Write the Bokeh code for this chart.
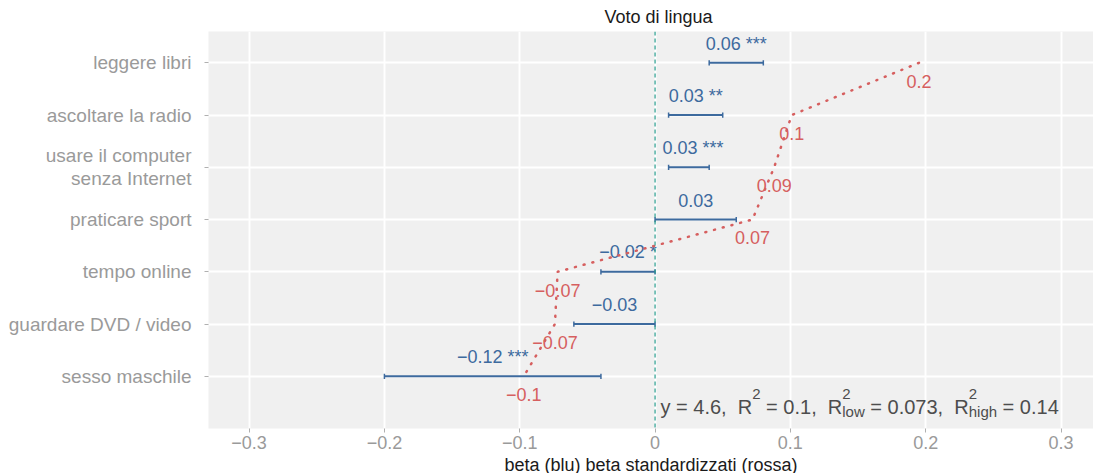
from bokeh.plotting import figure
from bokeh.models import FixedTicker, CustomJSTickFormatter, Span, Range1d
from bokeh.core.properties import value
from bokeh.embed import file_html
from bokeh.resources import INLINE

# ---------------- data ----------------
categories = ["leggere libri", "ascoltare la radio", "usare il computer\nsenza Internet",
              "praticare sport", "tempo online", "guardare DVD / video", "sesso maschile"]
beta = [0.06, 0.03, 0.028, 0.03, -0.02, -0.03, -0.12]
beta_low = [0.04, 0.01, 0.01, 0.0, -0.04, -0.06, -0.20]
beta_high = [0.08, 0.05, 0.04, 0.06, 0.0, 0.0, -0.04]
stars = ["***", "**", "***", "", "*", "", "***"]
beta_std = [0.195, 0.101, 0.088, 0.072, -0.072, -0.074, -0.097]
x_ticks = [-0.3, -0.2, -0.1, 0.0, 0.1, 0.2, 0.3]
title_text = "Voto di lingua"
x_label = "beta (blu) beta standardizzati (rossa)"
stat_y = "4.6"
stat_r2 = "0.1"
stat_r2_low = "0.073"
stat_r2_high = "0.14"

# ---------------- styles ----------------
FONT = "Liberation Sans"
BLUE = "#3d6a9e"
RED = "#d65f5f"
TEAL = "#2a9d8f"
GRAY = "#9a9a9a"
X0, X1 = -0.330, 0.324
FW, FH = 885, 397
NB = "\u00a0"

n = len(categories)
ypos = [n - i for i in range(n)]


def minus(s):
    return s.replace("-", "\u2212")


blue_labels = [minus(f"{b:.2f}") + (NB + s if s else "") for b, s in zip(beta, stars)]
red_labels = [minus(f"{b:.1g}") for b in beta_std]

p = figure(frame_width=FW, frame_height=FH, x_range=Range1d(X0, X1), y_range=Range1d(0, 7.6),
           output_backend="svg", toolbar_location=None,
           min_border_left=208, min_border_right=0, min_border_top=0, min_border_bottom=0,
           background_fill_color="#f0f0f0", border_fill_color="white", outline_line_color=None)

p.title.text = title_text
p.title.align = "left"
p.title.offset = 396
p.title.text_font = FONT
p.title.text_font_size = "18px"
p.title.text_font_style = "normal"
p.title.text_color = "#1a1a1a"
p.title.standoff = 9

# x axis
p.xaxis.ticker = FixedTicker(ticks=x_ticks)
p.xaxis.formatter = CustomJSTickFormatter(code="""
    if (Math.abs(tick) < 1e-9) return "0";
    return tick < 0 ? "\u2212" + (-tick).toFixed(1) : tick.toFixed(1);
""")
p.xaxis.axis_line_color = None
p.xaxis.major_tick_line_color = "#b0b0b0"
p.xaxis.major_tick_in = 0
p.xaxis.major_tick_out = 4
p.xaxis.minor_tick_line_color = None
p.xaxis.major_label_text_color = GRAY
p.xaxis.major_label_text_font = FONT
p.xaxis.major_label_text_font_size = "18px"
p.xaxis.major_label_standoff = 3
p.xaxis.axis_label = x_label
p.xaxis.axis_label_text_font = FONT
p.xaxis.axis_label_text_font_size = "18px"
p.xaxis.axis_label_text_font_style = "normal"
p.xaxis.axis_label_text_color = "#1a1a1a"
p.xaxis.axis_label_standoff = 3

# y axis
p.yaxis.ticker = FixedTicker(ticks=ypos)
p.yaxis.major_label_overrides = {y: c for y, c in zip(ypos, categories)}
p.yaxis.axis_line_color = None
p.yaxis.major_tick_line_color = "#b0b0b0"
p.yaxis.major_tick_in = 0
p.yaxis.major_tick_out = 4
p.yaxis.minor_tick_line_color = None
p.yaxis.major_label_text_color = GRAY
p.yaxis.major_label_text_font = FONT
p.yaxis.major_label_text_font_size = "19px"
p.yaxis.major_label_text_line_height = 1.1
p.yaxis.major_label_standoff = 13

# grids
p.xgrid.ticker = FixedTicker(ticks=x_ticks)
p.xgrid.grid_line_color = "white"
p.xgrid.grid_line_width = 2
p.ygrid.grid_line_color = "white"
p.ygrid.grid_line_width = 2

# zero line
p.add_layout(Span(location=0, dimension="height", line_color=TEAL, line_dash="4 3", line_width=1.2))

# blue error bars
p.segment(x0=beta_low, y0=ypos, x1=beta_high, y1=ypos, line_color=BLUE, line_width=2)
cap = 0.05
p.segment(x0=beta_low, y0=[y - cap for y in ypos], x1=beta_low, y1=[y + cap for y in ypos],
          line_color=BLUE, line_width=1.5)
p.segment(x0=beta_high, y0=[y - cap for y in ypos], x1=beta_high, y1=[y + cap for y in ypos],
          line_color=BLUE, line_width=1.5)
p.text(x=beta, y=[y + 0.37 for y in ypos], text=blue_labels, text_align="center",
       text_baseline="middle", text_font=value(FONT), text_font_size="18px", text_color=BLUE)

# red standardized betas
p.text(x=beta_std, y=[y - 0.35 for y in ypos], text=red_labels, text_align="center",
       text_baseline="middle", text_font=value(FONT), text_font_size="18px", text_color=RED)
p.line(x=beta_std, y=ypos, line_color=RED, line_width=2.5, line_dash="1 8", line_cap="round")

# stats annotation (pieces with super/subscripts)
W = {' ': 278, NB: 278, ',': 278, '.': 278, '=': 584, 'y': 500, 'R': 722, 'l': 222, 'o': 556,
     'w': 722, 'h': 556, 'i': 222, 'g': 556}
for d in "0123456789":
    W[d] = 556


def tw(s, size):
    return sum(W[c] for c in s) * size / 1000.0


MAIN, SMALL = 20, 15
ppu = FW / (X1 - X0)
seq = [("y" + NB + "=" + NB + stat_y + "," + NB * 2 + "R", None),
       ("2", None),
       (NB + "=" + NB + stat_r2 + "," + NB * 2 + "R", None),
       ("2", "low"),
       (NB + "=" + NB + stat_r2_low + "," + NB * 2 + "R", None),
       ("2", "high"),
       (NB + "=" + NB + stat_r2_high, None)]
main_x, main_t, sup_x, sup_t, sub_x, sub_t = [], [], [], [], [], []
cur = 0.004 * ppu
for i, (a, b) in enumerate(seq):
    if i % 2 == 0:
        main_x.append(cur / ppu)
        main_t.append(a)
        cur += tw(a, MAIN)
    else:
        sup_x.append(cur / ppu)
        sup_t.append(a)
        w = tw(a, SMALL)
        if b:
            sub_x.append(cur / ppu)
            sub_t.append(b)
            w = max(w, tw(b, SMALL))
        cur += w

p.text(x=main_x, y=[0.5] * len(main_x), text=main_t, text_align="left", text_baseline="alphabetic",
       y_offset=5, text_font=value(FONT), text_font_size=f"{MAIN}px", text_color="#4d4d4d")
p.text(x=sup_x, y=[0.5] * len(sup_x), text=sup_t, text_align="left", text_baseline="alphabetic",
       y_offset=-8, text_font=value(FONT), text_font_size=f"{SMALL}px", text_color="#4d4d4d")
p.text(x=sub_x, y=[0.5] * len(sub_x), text=sub_t, text_align="left", text_baseline="alphabetic",
       y_offset=9, text_font=value(FONT), text_font_size=f"{SMALL}px", text_color="#4d4d4d")

open("out.html", "w").write(file_html(p, INLINE))
